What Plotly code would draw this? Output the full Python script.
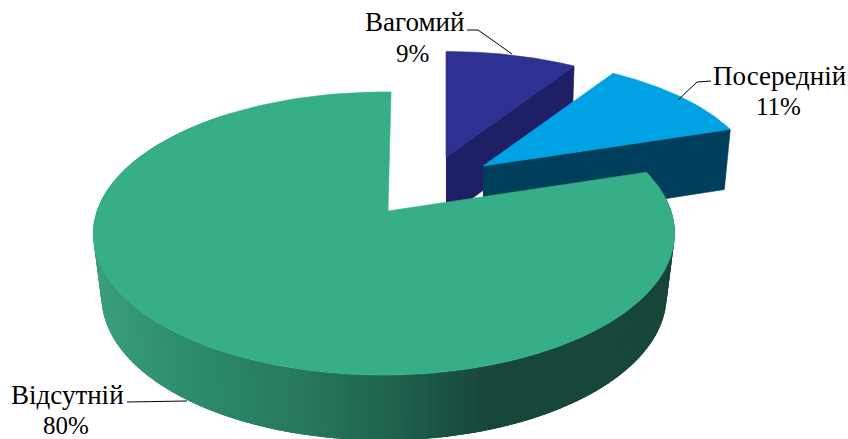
import numpy as np
import plotly.graph_objects as go

categories = ["Вагомий", "Посередній", "Відсутній"]
shares = [9, 11, 80]
top_colors = ["#2E3192", "#00A2E3", "#36AF88"]
wall_colors = ["#1F1F66", "#003F5C", None]

# Drawing geometry (view of a tilted disc)
APEX = [(446, 157), (483, 166), (388, 211)]
OFFSET = [(0.215, 0.417), (0.349, 0.344), (0.0, 0.0)]
ROTATE = [0.0, 0.0, 0.7]
SIDE_TILT = [0.0, 0.0, 0.0138]
LOWER_SCALE = [0.985, 0.976, 0.972]
WALL_END_DEG = 320.0  # the wall further round is hidden behind the top face
NAME_XY = [(414, 22), (779, 76), (67, 395)]
SHARE_XY = [(412, 53), (778, 106), (66, 425)]
LEADERS = [([467, 478, 512], [30, 30, 54]),
           ([711, 697, 678], [81, 82, 100]),
           ([127, 187], [402, 401])]
K, A, B = 0.159, 138.0, 287.0
DEPTH = 62.0
SHADE_X = [95, 190, 300, 400, 490, 680]
SHADE_RGB = np.array([(58, 158, 126), (44, 140, 108), (39, 121, 95),
                      (30, 97, 77), (23, 70, 58), (23, 70, 58)])


def project(slice_i, frac_u, frac_v, lower=False):
    ou, ov = OFFSET[slice_i]
    u, v = np.asarray(frac_u), np.asarray(frac_v)
    w = 1 + K * (v + ov) + SIDE_TILT[slice_i] * (u + ou)
    ax = APEX[slice_i][0]
    x = ax + B * u / w
    y = APEX[2][1] - A * (v + ov) / w
    if lower:
        x = ax + (x - ax) * LOWER_SCALE[slice_i]
        y = y + DEPTH * w ** -0.3
    return x, y


def arc(slice_i, start, end, n=120):
    th = np.radians(np.linspace(start, end, n) + ROTATE[slice_i])
    return np.sin(th), np.cos(th)


fig = go.Figure()


def poly(x, y, color, lw=0.6):
    fig.add_trace(go.Scatter(x=list(x), y=list(y), mode="lines", fill="toself",
                             fillcolor=color, line=dict(color=color, width=lw),
                             hoverinfo="skip", showlegend=False))


edges = np.concatenate([[0], np.cumsum(shares)]) * 3.6

# Cut faces of the two pulled-out slices, rear one first
for i in (0, 1):
    u, v = arc(i, edges[i + 1], edges[i + 1], 1)
    xa, ya = project(i, [0.0, u[0]], [0.0, v[0]])
    xb, yb = project(i, [0.0, u[0]], [0.0, v[0]], lower=True)
    poly([xa[0], xa[1], xb[1], xb[0]], [ya[0], ya[1], yb[1], yb[0]], wall_colors[i])

# Outer wall of the large slice, shaded strip by strip (each strip overlaps the next)
wall_edges = np.linspace(edges[2], WALL_END_DEG, 201)
for a0, a1 in zip(wall_edges[:-1], wall_edges[1:]):
    u, v = arc(2, a0, a1 + 1.5, 4)
    xt, yt = project(2, u, v)
    xl, yl = project(2, u, v, lower=True)
    mid = project(2, *arc(2, a0, a1, 2))[0].mean()
    rgb = [int(np.interp(mid, SHADE_X, SHADE_RGB[:, c])) for c in range(3)]
    poly(np.r_[xt, xl[::-1]], np.r_[yt, yl[::-1]], f"rgb({rgb[0]},{rgb[1]},{rgb[2]})", lw=0)

# Top faces
for i in (0, 1, 2):
    u, v = arc(i, edges[i], edges[i + 1], 200)
    x, y = project(i, np.r_[0.0, u], np.r_[0.0, v])
    poly(np.r_[x, x[0]], np.r_[y, y[0]], top_colors[i])

# Leader lines
for lx, ly in LEADERS:
    fig.add_trace(go.Scatter(x=lx, y=ly, mode="lines", line=dict(color="#000000", width=1),
                             hoverinfo="skip", showlegend=False))

# Labels
for name, share, nxy, sxy in zip(categories, shares, NAME_XY, SHARE_XY):
    for text, (lx, ly), size in ((name, nxy, 27), (f"{share}%", sxy, 25)):
        fig.add_annotation(x=lx, y=ly, text=text, showarrow=False,
                           xanchor="center", yanchor="middle", align="center",
                           font=dict(family="Liberation Serif", size=size, color="#000000"))

fig.update_xaxes(range=[0, 848], visible=False, fixedrange=True)
fig.update_yaxes(range=[439, 0], visible=False, fixedrange=True)
fig.update_layout(width=848, height=439, margin=dict(l=0, r=0, t=0, b=0),
                  paper_bgcolor="#FFFFFF", plot_bgcolor="#FFFFFF", showlegend=False)
fig.write_html("out.html", config={"displayModeBar": False},
               post_script="document.body.style.margin='0';")
